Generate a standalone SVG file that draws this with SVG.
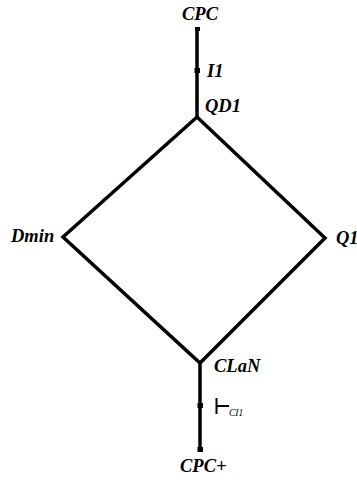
<svg xmlns="http://www.w3.org/2000/svg" width="357" height="485" viewBox="0 0 357 485">
<style>
.e{stroke:#000;stroke-width:3.5;fill:none;stroke-linecap:butt;stroke-linejoin:miter}
.t{font-family:"Liberation Serif",serif;font-weight:bold;font-style:italic;font-size:18.5px;fill:#000}
.s{font-family:"Liberation Serif",serif;font-style:italic;font-size:9.5px;fill:#000}
.m{fill:#000}
.k{stroke:#000;stroke-width:2}
</style>
<rect width="357" height="485" fill="#fff"/>
<g id="connectors">
<line class="e" x1="197" y1="28" x2="197" y2="118"/>
<rect class="m" x="195" y="27" width="5" height="4"/>
<rect class="m" x="194.5" y="68" width="5.5" height="5"/>
<polyline class="e" points="197,117 63,237 200,363 325,238 197,117"/>
<line class="e" x1="200" y1="363" x2="200" y2="450"/>
<rect class="m" x="197.5" y="403" width="5.5" height="5"/>
<rect class="m" x="197.5" y="447" width="5.5" height="5"/>
</g>
<g id="CPC"><text class="t" x="182" y="20">CPC</text></g>
<g id="I1"><text class="t" x="207" y="77">I1</text></g>
<g id="QD1"><text class="t" x="205" y="112">QD1</text></g>
<g id="Dmin"><text class="t" x="11" y="242">Dmin</text></g>
<g id="Q1"><text class="t" x="336" y="244">Q1</text></g>
<g id="CLaN"><text class="t" x="214" y="372">CLaN</text></g>
<g id="CI1">
<line class="k" x1="216.5" y1="398" x2="216.5" y2="414"/>
<line class="k" x1="216" y1="406" x2="229" y2="406"/>
<text class="s" x="229" y="416">CI1</text>
</g>
<g id="CPCplus"><text class="t" x="180" y="472">CPC+</text></g>
</svg>
